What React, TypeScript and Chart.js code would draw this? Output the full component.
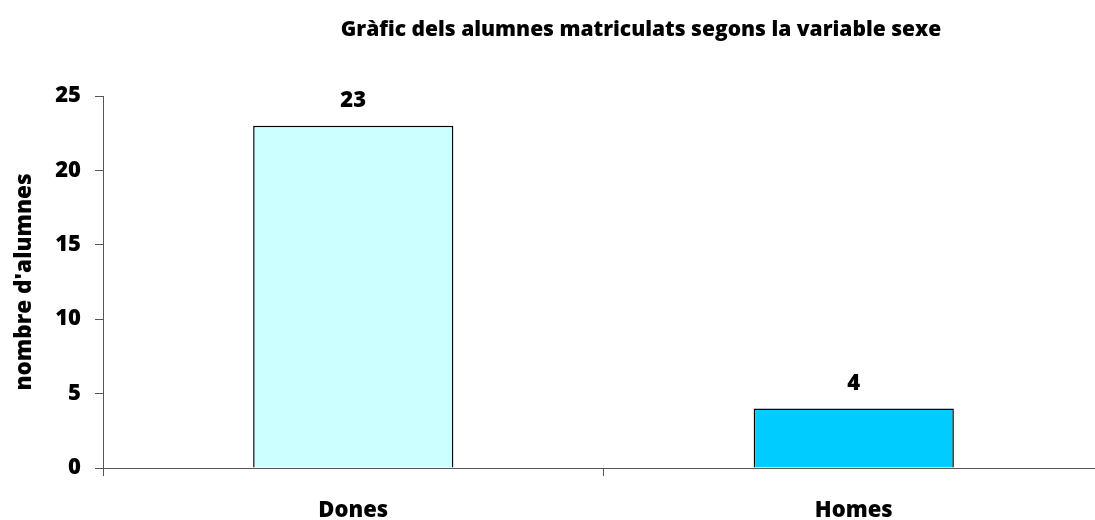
import React, { useEffect, useRef } from "react";
import { Chart, registerables } from "chart.js";

Chart.register(...registerables);

const title = "Gràfic dels alumnes matriculats segons la variable sexe";
const categories = ["Dones", "Homes"];
const values = [23, 4];
const barColors = ["#CCFFFF", "#00CCFF"];
const yTitle = "nombre d'alumnes";
const yMin = 0;
const yMax = 25;
const yStep = 5;

const FONT = "'Open Sans', 'Noto Sans', sans-serif";
const W = "800";

const labelsPlugin = {
  id: "customText",
  afterDatasetsDraw(chart: any) {
    const ctx = chart.ctx;
    ctx.save();
    ctx.fillStyle = "#000";
    ctx.font = `${W} 22px ${FONT}`;
    ctx.textAlign = "center";
    ctx.textBaseline = "middle";
    const meta = chart.getDatasetMeta(0);
    meta.data.forEach((bar: any, i: number) => {
      ctx.fillText(String(values[i]), bar.x, bar.y - 25);
    });
    ctx.font = `${W} 21px ${FONT}`;
    ctx.textBaseline = "alphabetic";
    ctx.fillText(title, 641, 36);
    ctx.restore();
  },
};

export default function App() {
  const ref = useRef<HTMLCanvasElement>(null);
  useEffect(() => {
    if (!ref.current) return;
    const chart = new Chart(ref.current, {
      type: "bar",
      data: {
        labels: categories,
        datasets: [
          {
            data: values,
            backgroundColor: barColors,
            borderColor: "#000",
            borderWidth: 1.5,
            barPercentage: 0.4,
            categoryPercentage: 1,
          },
        ],
      },
      options: {
        responsive: false,
        animation: false,
        layout: { padding: { top: 96, right: 0, left: 0, bottom: 0 } },
        plugins: {
          legend: { display: false },
          title: { display: false },
          tooltip: { enabled: false },
        },
        scales: {
          x: {
            afterFit: (s: any) => {
              s.height = 52;
            },
            grid: {
              drawOnChartArea: false,
              drawTicks: true,
              tickLength: 8,
              color: "#555",
              offset: true,
            },
            border: { display: true, color: "#555", width: 1 },
            ticks: {
              color: "#000",
              padding: 22,
              font: { family: FONT, size: 22, weight: W },
            },
          },
          y: {
            min: yMin,
            max: yMax,
            afterFit: (s: any) => {
              s.width = 103;
            },
            grid: {
              drawOnChartArea: false,
              drawTicks: true,
              tickLength: 8,
              color: "#555",
            },
            border: { display: true, color: "#555", width: 1 },
            ticks: {
              stepSize: yStep,
              color: "#000",
              padding: 14,
              font: { family: FONT, size: 22, weight: W },
            },
            title: {
              display: true,
              text: yTitle,
              color: "#000",
              padding: { top: 11, bottom: 0 },
              font: { family: FONT, size: 22.5, weight: W },
            },
          },
        },
      },
      plugins: [labelsPlugin],
    });
    return () => chart.destroy();
  }, []);
  return (
    <div
      style={{
        position: "fixed",
        left: 0,
        top: 0,
        width: 1095,
        height: 520,
        overflow: "hidden",
        background: "#fff",
      }}
    >
      <canvas ref={ref} width={1104} height={520} style={{ display: "block" }} />
    </div>
  );
}
